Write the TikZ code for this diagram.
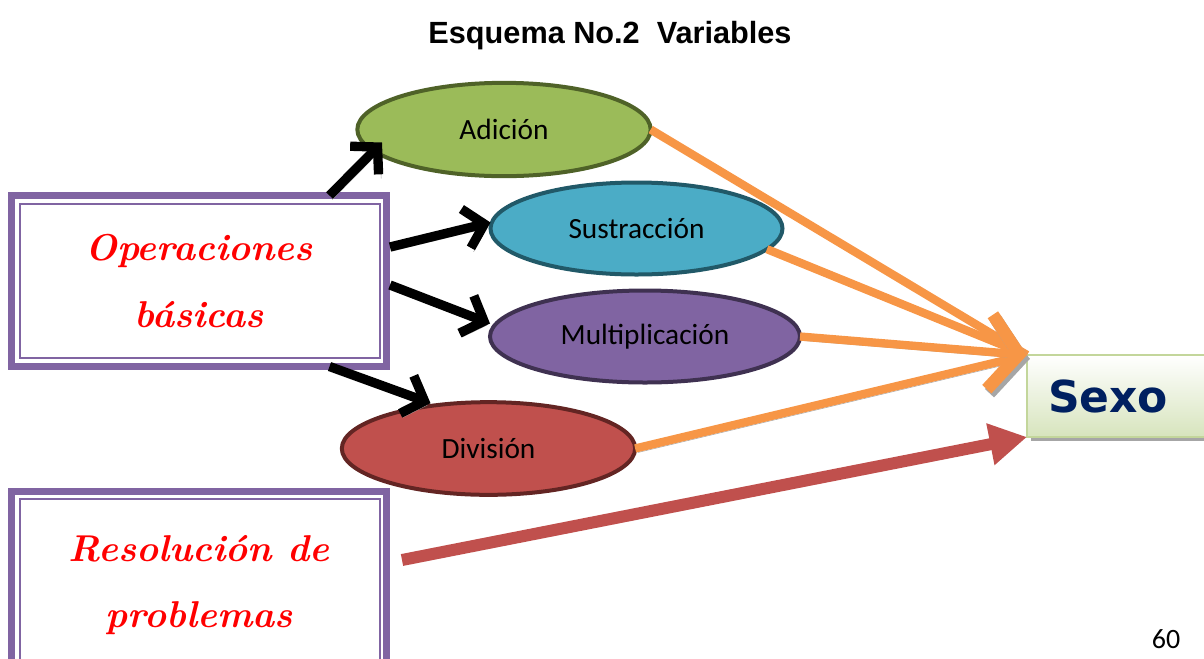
\documentclass[tikz,border=0pt]{standalone}
\usepackage{fontspec}
\newfontfamily\carlito{Carlito}
\newfontfamily\arialf{Liberation Sans}
\newfontfamily\dejavu{DejaVu Sans}
\usetikzlibrary{shapes.geometric,arrows.meta,calc,shadows}
\definecolor{opurple}{HTML}{8064A2}
\definecolor{addfill}{HTML}{9BBB59}
\definecolor{adddraw}{HTML}{4F6228}
\definecolor{subfill}{HTML}{4BACC6}
\definecolor{subdraw}{HTML}{215968}
\definecolor{mulfill}{HTML}{8064A2}
\definecolor{muldraw}{HTML}{3F3151}
\definecolor{divfill}{HTML}{C0504D}
\definecolor{divdraw}{HTML}{632523}
\definecolor{orange1}{HTML}{F79646}
\definecolor{redarrow}{HTML}{C0504D}
\definecolor{shadowgray}{HTML}{A6A6A6}
\definecolor{sexofill}{HTML}{D7E4BD}
\definecolor{sexodraw}{HTML}{C3D69B}
\definecolor{navy}{HTML}{002060}
\begin{document}
\begin{tikzpicture}[x=0.75pt,y=-0.75pt,
  purp/.style={draw=opurple, line width=5.25pt, rectangle, outer sep=0pt, inner sep=0pt,
    minimum width=281.25pt, align=center, text=red,
    font=\fontsize{28}{50}\selectfont\bfseries\itshape},
  innerline/.style={draw=opurple, line width=1.5pt},
  oval/.style={ellipse, line width=3pt, inner sep=0pt, outer sep=0pt,
    font=\carlito\fontsize{22}{26}\selectfont},
  shad/.style={preaction={draw=shadowgray, transform canvas={xshift=2pt,yshift=-3pt}}},
  blk/.style={draw=black, line width=7pt, -{Straight Barb[length=14pt,width=30pt]}, shad},
  org/.style={draw=orange1, line width=6.25pt, shad},
  orghead/.style={-{Straight Barb[length=22pt,width=56pt,line width=0pt 1.5]}},
]
\useasboundingbox (0,0) rectangle (1204,658);
\clip (0,0) rectangle (1204,658);

% title and page number
\node[font=\arialf\bfseries\fontsize{23}{27}\selectfont, anchor=base] (title) at (610,43) {Esquema No.2~ Variables};
\node[font=\carlito\fontsize{21}{25}\selectfont, anchor=base] (page) at (1166,648) {60};

% boxes on the left
\node[purp, minimum height=128.25pt] (ops) at (199,281) {Operaciones\\básicas};
\draw[innerline] ($(ops.north west)+(8,8)$) rectangle ($(ops.south east)+(-7,-9)$);
\node[purp, minimum height=141pt] (res) at (199,585) {Resolución de\\problemas};
\draw[innerline] ($(res.north west)+(8,8)$) rectangle ($(res.south east)+(-7,-9)$);

% ellipses
\node[oval, draw=adddraw, fill=addfill, minimum width=220pt, minimum height=70pt] (add) at (504,129.5) {Adición};
\node[oval, draw=subdraw, fill=subfill, minimum width=219pt, minimum height=69pt] (sub) at (636.5,228.5) {Sustracción};
\node[oval, draw=muldraw, fill=mulfill, minimum width=232.5pt, minimum height=69pt] (mul) at (645,336.5) {Multiplicación};
\node[oval, draw=divdraw, fill=divfill, minimum width=220pt, minimum height=69.5pt] (div) at (488.5,448.5) {División};

% target box
\node[draw=sexodraw, line width=1.5pt, top color=white, bottom color=sexofill,
  minimum width=174.75pt, minimum height=61.5pt, inner xsep=15.75pt, text width=143.25pt,
  align=left, outer sep=0pt, text=navy, font=\dejavu\bfseries\fontsize{33}{36}\selectfont,
  drop shadow={shadow xshift=3pt, shadow yshift=-3pt, fill=black!35, opacity=1}]
  (sexo) at (1143.5,396) {Sexo};

% black arrows
\draw[blk] ($(ops.north east)+(-57,0)$) -- ($(add.center)+(-122,13)$);
\draw[blk] ($(ops.east)+(3.5,-34)$) -- ($(sub.west)+(0,-6)$);
\draw[blk] ($(ops.east)+(3.5,4)$) -- ($(mul.west)+(0,-13)$);
\draw[blk] ($(ops.south east)+(-57,0)$) -- ($(div.north)+(-58,1)$);

% orange connectors
\draw[org] (add.east) -- (sexo.north west);
\draw[org] (sub.351) -- (sexo.north west);
\draw[org] (div.east) -- (sexo.north west);
\draw[org, orghead] (mul.east) -- (sexo.north west);

% red arrow
\draw[draw=redarrow, line width=9pt, -{Triangle[length=28pt,width=30pt]}]
  ($(res.north east)+(15.5,69)$) -- (sexo.south west);
\end{tikzpicture}
\end{document}
